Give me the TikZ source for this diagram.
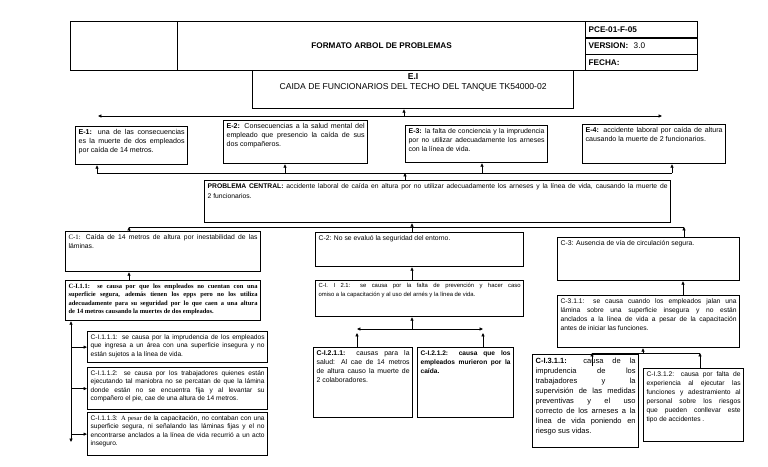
\documentclass[tikz,border=0pt]{standalone}
\usepackage{fontspec}
\setmainfont{Liberation Sans}
\newfontfamily\tmsfont{Liberation Serif}
\usetikzlibrary{arrows.meta}
\tikzset{
 bx/.style={draw, line width=1.25pt, inner sep=3pt, anchor=north west},
 hcell/.style={draw, line width=1.25pt, inner sep=0pt, anchor=north west},
 ln/.style={line width=0.65pt},
 cn/.style={ln, -{Triangle[length=3.4pt,width=3pt]}},
 cnb/.style={ln, {Triangle[length=3.4pt,width=3pt]}-{Triangle[length=3.4pt,width=3pt]}},
}
\newcommand{\bxn}[8]{%
 \pgfmathsetmacro{\bxw}{#4-#2-6}%
 \pgfmathsetmacro{\bxh}{#5-#3-6}%
 \node[bx] (#1) at (#2,#3) {\begin{minipage}[t][\bxh pt][t]{\bxw pt}\fontsize{#6}{#7}\selectfont\sloppy\hyphenpenalty=10000\exhyphenpenalty=10000\relax #8\end{minipage}};%
}
\begin{document}
\begin{tikzpicture}[x=1pt,y=-1pt]
\useasboundingbox (0,0) rectangle (768,466);
% header
\node[hcell, minimum width=107pt, minimum height=49pt] (hl) at (70,21) {};
\node[hcell, minimum width=408pt, minimum height=49pt, font=\fontsize{8.2}{10}\selectfont\bfseries] (ht) at (177,21) {FORMATO ARBOL DE PROBLEMAS};
\node[hcell, minimum width=112pt, minimum height=16.33pt, text width=106pt, inner xsep=3pt, align=left, font=\fontsize{8.2}{10}\selectfont] (hc1) at (585,21) {\textbf{PCE-01-F-05}};
\node[hcell, minimum width=112pt, minimum height=16.33pt, text width=106pt, inner xsep=3pt, align=left, font=\fontsize{8.2}{10}\selectfont] (hc2) at (585,37.33) {\textbf{VERSION:}\ \ 3.0};
\node[hcell, minimum width=112pt, minimum height=16.33pt, text width=106pt, inner xsep=3pt, align=left, font=\fontsize{8.2}{10}\selectfont] (hc3) at (585,53.67) {\textbf{FECHA:}};
% E.I
\bxn{ei}{252}{70}{573}{108}{8.6}{10}{\centering\textbf{E.I}\\CAIDA DE FUNCIONARIOS DEL TECHO DEL TANQUE TK54000-02\par}
% effects
\bxn{e1}{75}{126}{187}{164}{7.1}{8.9}{\textbf{E-1:} una de las consecuencias\linebreak es la muerte de dos empleados\linebreak por caída de 14 metros.}
\bxn{e2}{223}{120}{367}{163}{7.1}{8.9}{\textbf{E-2:} Consecuencias a la salud mental del\linebreak empleado que presencio la caída de sus\linebreak dos compañeros.}
\bxn{e3}{405}{125}{547}{162}{6.95}{8.9}{\textbf{E-3:} la falta de conciencia y la imprudencia\linebreak por no utilizar adecuadamente los arneses\linebreak con la línea de vida.}
\bxn{e4}{582}{124}{725}{163}{7.1}{8.9}{\textbf{E-4:} accidente laboral por caída de altura\linebreak causando la muerte de 2 funcionarios.}
% central problem
\bxn{pc}{204}{180}{670}{222}{6.75}{9.5}{\textbf{PROBLEMA CENTRAL:} accidente laboral de caída en altura por no utilizar adecuadamente los arneses y la línea de vida, causando la muerte de\linebreak 2 funcionarios.}
% causes
\bxn{c1}{65}{231}{260}{271}{6.8}{9}{{\tmsfont C-1:} Caída de 14 metros de altura por inestabilidad de las\linebreak láminas.}
\bxn{c11}{65}{280}{260}{320}{6.5}{8.6}{{\tmsfont\bfseries C-I.1.1:\ \ se causa por que los empleados no cuentan con una\linebreak superficie segura, además tienen los epps pero no los utiliza\linebreak adecuadamente para su seguridad por lo que caen a una altura\linebreak de 14 metros causando la muertes de dos empleados.}}
\bxn{c2}{315}{232}{523}{266}{6.8}{9}{C-2: No se evaluó la seguridad del entorno.}
\bxn{c21}{315}{280}{523}{316}{5.9}{8.8}{C-I. I 2.1: se causa por la falta de prevención y hacer caso\linebreak omiso a la capacitación y al uso del arnés y la línea de vida.}
\bxn{c3}{557}{237}{739}{280}{6.9}{9}{C-3: Ausencia de vía de circulación segura.}
\bxn{c31}{557}{295}{739}{347}{6.7}{8.9}{C-3.1.1: se causa cuando los empleados jalan una\linebreak lámina sobre una superficie insegura y no están\linebreak anclados a la línea de vida a pesar de la capacitación\linebreak antes de iniciar las funciones.}
\bxn{c111}{87}{331}{267}{362}{6.6}{8.4}{C-I.1.1.1: se causa por la imprudencia de los empleados\linebreak que ingresa a un área con una superficie insegura y no\linebreak están sujetos a la línea de vida.}
\bxn{c112}{87}{367}{267}{409}{6.6}{8.4}{C-I.1.1.2: se causa por los trabajadores quienes están\linebreak ejecutando tal maniobra no se percatan de que la lámina\linebreak donde están no se encuentra fija y al levantar su\linebreak compañero el pie, cae de una altura de 14 metros.}
\bxn{c113}{87}{412}{267}{455}{6.6}{8.4}{C-I.1.1.3: {\tmsfont A pesar} de la capacitación, no contaban con una\linebreak superficie segura, ni señalando las láminas fijas y el no\linebreak encontrarse anclados a la línea de vida recurrió a un acto\linebreak inseguro.}
\bxn{c211}{313}{347}{412}{417}{6.9}{8.8}{\textbf{C-I.2.1.1:} causas para la\linebreak salud: Al cae de 14 metros\linebreak de altura causo la muerte de\linebreak 2 colaboradores.}
\bxn{c212}{417}{347}{513}{417}{6.6}{8.8}{\textbf{C-I.2.1.2: causa que los\linebreak empleados murieron por la\linebreak caída.}}
\bxn{c311}{532}{354}{638}{447}{7.5}{10}{\textbf{C-I.3.1.1:} causa de la\linebreak imprudencia de los\linebreak trabajadores y la\linebreak supervisión de las medidas\linebreak preventivas y el uso\linebreak correcto de los arneses a la\linebreak línea de vida poniendo en\linebreak riesgo sus vidas.}
\bxn{c312}{643}{368}{743}{441}{6.7}{9}{C-I.3.1.2: causa por falta de\linebreak experiencia al ejecutar las\linebreak funciones y adestramiento al\linebreak personal sobre los riesgos\linebreak que pueden conllevar este\linebreak tipo de accidentes .}
% connector coordinates
\coordinate (t1) at (98,116); \coordinate (t2) at (662,116); \coordinate (tm) at (404,116);
\coordinate (u1) at (97,173); \coordinate (u2) at (285,173); \coordinate (u3) at (482,173);
\coordinate (u4) at (672,173); \coordinate (u5) at (405,173);
\coordinate (m1) at (129,227); \coordinate (m2) at (684,227); \coordinate (m3) at (412,227);
\coordinate (v2) at (71,442);
\coordinate (w1) at (357,329); \coordinate (w2) at (483,329); \coordinate (w3) at (412,329);
\coordinate (w1b) at (357,333); \coordinate (w2b) at (483,333);
\coordinate (z1) at (592,353); \coordinate (z2) at (700,353); \coordinate (z3) at (643,353);
\coordinate (z1b) at (592,366);
% top level
\draw[cnb] (t1) -- (t2);
\draw[cn] (tm) -- (tm |- ei.south);
\draw[ln] (u1) -- (u4);
\draw[cn] (u1) -- (u1 |- e1.south);
\draw[cn] (u2) -- (u2 |- e2.south);
\draw[cn] (u3) -- (u3 |- e3.south);
\draw[cn] (u4) -- (u4 |- e4.south);
\draw[cn] (u5 |- pc.north) -- (u5);
% causes level
\draw[ln] (m1) -- (m2);
\draw[cn] (m1 |- c1.north) -- (m1);
\draw[cn] (m3 |- c2.north) -- (m3 |- pc.south);
\draw[cn] (m2 |- c3.north) -- (m2);
\draw[cn] (m1 |- c11.north) -- (m1 |- c1.south);
\draw[cn] (m3 |- c21.north) -- (m3 |- c2.south);
\draw[cn] ([xshift=-1pt]m2 |- c31.north) -- ([xshift=-1pt]m2 |- c3.south);
% left branch
\draw[cnb] (v2) -- (v2 |- c11.south);
\draw[cn] (v2 |- c111.west) -- (c111.west);
\draw[cn] (v2 |- c112.west) -- (c112.west);
\draw[cn] (v2 |- c113.west) -- (c113.west);
% middle branch
\draw[cn] (w3) -- (w3 |- c21.south);
\draw[cnb] (w1) -- (w2);
\draw[cn] (w1b |- c211.north) -- (w1b);
\draw[cn] (w2b |- c212.north) -- (w2b);
% right branch
\draw[cn] (z3) -- (z3 |- c31.south);
\draw[ln] (z1) -- (z2);
\draw[cn] (z1b) -- (z1);
\draw[cn] (z2 |- c312.north) -- (z2);
\end{tikzpicture}
\end{document}
